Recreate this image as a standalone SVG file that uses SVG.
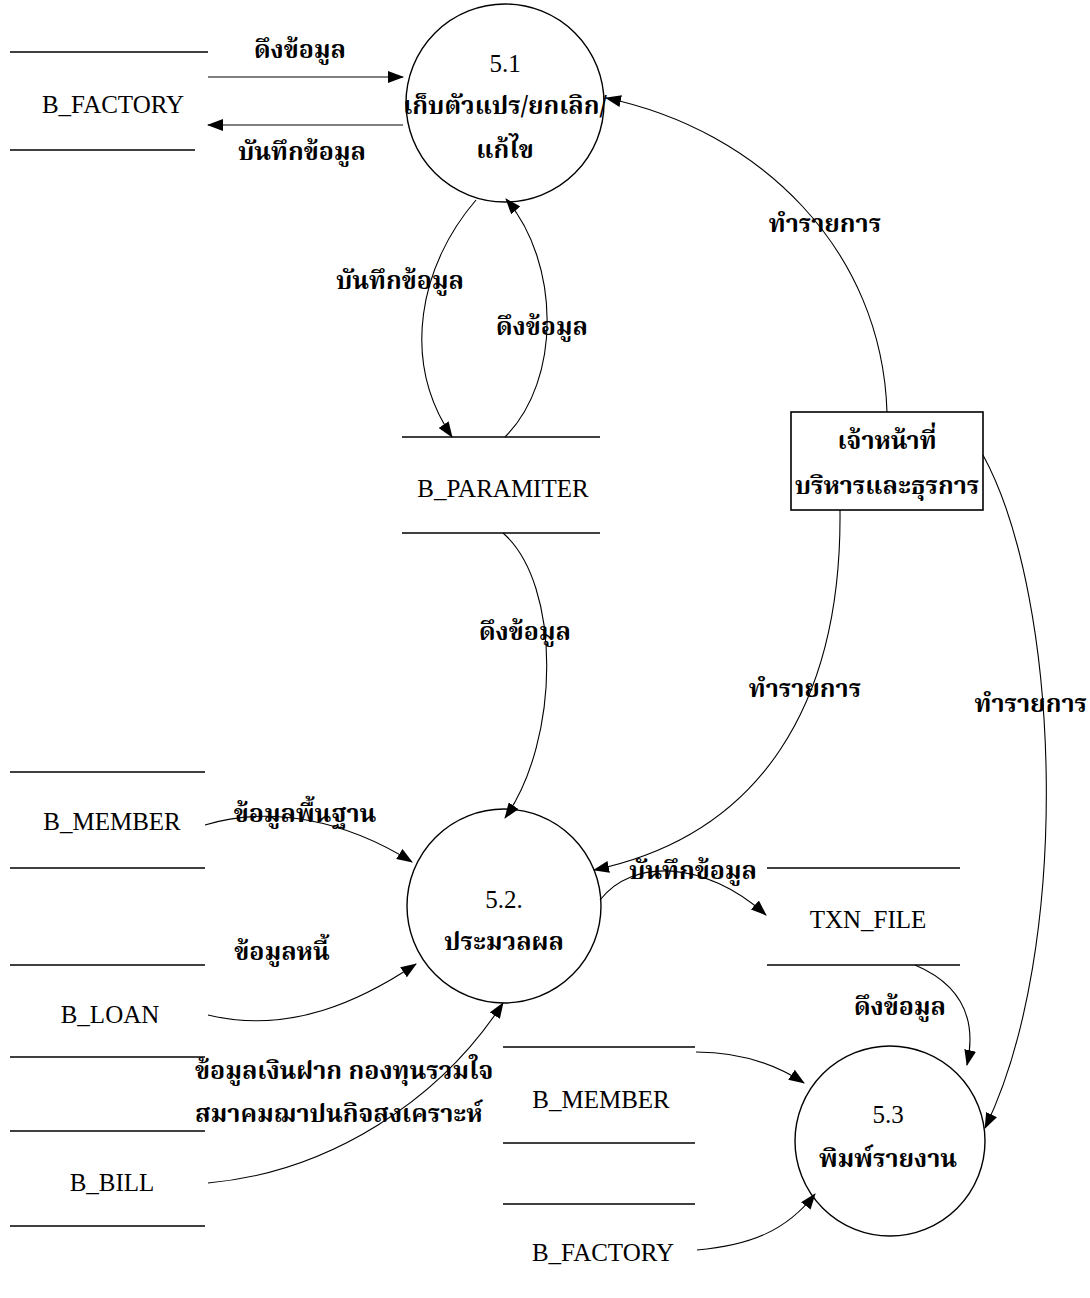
<svg xmlns="http://www.w3.org/2000/svg" width="1090" height="1298" viewBox="0 0 1090 1298">
  <style>
    .bg { fill: #ffffff; }
    .proc { fill: none; stroke: #000; stroke-width: 1.4; }
    .ent { fill: none; stroke: #000; stroke-width: 1.6; }
    .store line { stroke: #000; stroke-width: 1.6; }
    .flow { fill: none; stroke: #000; stroke-width: 1.1; marker-end: url(#arrow); }
    .lat { font-family: "Liberation Serif", "Times New Roman", serif; font-size: 25px; fill: #000; text-anchor: middle; }
    .th { font-family: "Noto Serif Thai", "Kinnari", "Norasi", "Angsana New", "Liberation Serif", serif; font-size: 25px; font-weight: bold; fill: #000; text-anchor: middle; }
    .thl { text-anchor: start; }
    .thr { text-anchor: end; }
  </style>
  <defs>
    <marker id="arrow" markerUnits="userSpaceOnUse" markerWidth="16" markerHeight="12" refX="15" refY="6" orient="auto">
      <path d="M0,0 L16,6 L0,12 Z" fill="#000"/>
    </marker>
  </defs>
  <rect class="bg" x="0" y="0" width="1090" height="1298"/>

  <!-- data flows -->
  <g id="connectors">
    <path class="flow" d="M208,77 L403,77"/>
    <path class="flow" d="M403,125 L208,125"/>
    <path class="flow" d="M476,200 C420,265 400,360 452,437"/>
    <path class="flow" d="M505,437 C562,380 560,262 506,199"/>
    <path class="flow" d="M503,533 C562,585 560,740 505,818"/>
    <path class="flow" d="M887,412 C882,250 760,130 606,98"/>
    <path class="flow" d="M840,510 C842,705 760,835 594,870"/>
    <path class="flow" d="M983,455 C1062,600 1072,950 985,1128"/>
    <path class="flow" d="M205,825 C270,805 345,820 412,862"/>
    <path class="flow" d="M208,1015 C290,1035 362,1000 416,964"/>
    <path class="flow" d="M208,1183 C330,1172 440,1100 503,1003"/>
    <path class="flow" d="M600,900 C632,858 705,860 766,915"/>
    <path class="flow" d="M915,965 C962,985 977,1020 967,1065"/>
    <path class="flow" d="M696,1052 C738,1052 772,1062 804,1083"/>
    <path class="flow" d="M697,1250 C752,1245 787,1230 815,1194"/>
  </g>

  <!-- flow labels -->
  <g id="flow-labels">
    <text class="th" x="300" y="58">ดึงข้อมูล</text>
    <text class="th" x="302" y="160">บันทึกข้อมูล</text>
    <text class="th" x="400" y="289">บันทึกข้อมูล</text>
    <text class="th" x="542" y="335">ดึงข้อมูล</text>
    <text class="th" x="525" y="640">ดึงข้อมูล</text>
    <text class="th" x="825" y="232">ทำรายการ</text>
    <text class="th" x="805" y="697">ทำรายการ</text>
    <text class="th thr" x="1087" y="712">ทำรายการ</text>
    <text class="th" x="305" y="822">ข้อมูลพื้นฐาน</text>
    <text class="th" x="282" y="960">ข้อมูลหนี้</text>
    <text class="th thl" x="195" y="1079">ข้อมูลเงินฝาก  กองทุนรวมใจ</text>
    <text class="th thl" x="195" y="1122">สมาคมฌาปนกิจสงเคราะห์</text>
    <text class="th" x="693" y="879">บันทึกข้อมูล</text>
    <text class="th" x="900" y="1015">ดึงข้อมูล</text>
  </g>

  <!-- processes -->
  <g id="p51">
    <circle class="proc" cx="505" cy="103" r="99"/>
    <text class="lat" x="505" y="72">5.1</text>
    <text class="th" x="505" y="114">เก็บตัวแปร/ยกเลิก/</text>
    <text class="th" x="505" y="158">แก้ไข</text>
  </g>
  <g id="p52">
    <circle class="proc" cx="504" cy="906" r="97"/>
    <text class="lat" x="504" y="908">5.2.</text>
    <text class="th" x="504" y="950">ประมวลผล</text>
  </g>
  <g id="p53">
    <circle class="proc" cx="890" cy="1141" r="95"/>
    <text class="lat" x="888" y="1123">5.3</text>
    <text class="th" x="888" y="1167">พิมพ์รายงาน</text>
  </g>

  <!-- external entity -->
  <g id="staff">
    <rect class="ent" x="791" y="412" width="192" height="98"/>
    <text class="th" x="887" y="449">เจ้าหน้าที่</text>
    <text class="th" x="887" y="494">บริหารและธุรการ</text>
  </g>

  <!-- data stores -->
  <g id="store-factory-top" class="store">
    <line x1="10" y1="52" x2="208" y2="52"/>
    <line x1="10" y1="150" x2="195" y2="150"/>
    <text class="lat" x="113" y="113">B_FACTORY</text>
  </g>
  <g id="store-paramiter" class="store">
    <line x1="402" y1="437" x2="600" y2="437"/>
    <line x1="402" y1="533" x2="600" y2="533"/>
    <text class="lat" x="503" y="497">B_PARAMITER</text>
  </g>
  <g id="store-member-left" class="store">
    <line x1="10" y1="772" x2="205" y2="772"/>
    <line x1="10" y1="868" x2="205" y2="868"/>
    <text class="lat" x="112" y="830">B_MEMBER</text>
  </g>
  <g id="store-loan" class="store">
    <line x1="10" y1="965" x2="205" y2="965"/>
    <line x1="10" y1="1057" x2="205" y2="1057"/>
    <text class="lat" x="110" y="1023">B_LOAN</text>
  </g>
  <g id="store-bill" class="store">
    <line x1="10" y1="1131" x2="205" y2="1131"/>
    <line x1="10" y1="1226" x2="205" y2="1226"/>
    <text class="lat" x="112" y="1191">B_BILL</text>
  </g>
  <g id="store-txn" class="store">
    <line x1="767" y1="868" x2="960" y2="868"/>
    <line x1="767" y1="965" x2="960" y2="965"/>
    <text class="lat" x="868" y="928">TXN_FILE</text>
  </g>
  <g id="store-member-right" class="store">
    <line x1="503" y1="1047" x2="695" y2="1047"/>
    <line x1="503" y1="1143" x2="695" y2="1143"/>
    <text class="lat" x="601" y="1108">B_MEMBER</text>
  </g>
  <g id="store-factory-bottom" class="store">
    <line x1="503" y1="1204" x2="695" y2="1204"/>
    <text class="lat" x="603" y="1261">B_FACTORY</text>
  </g>
</svg>
